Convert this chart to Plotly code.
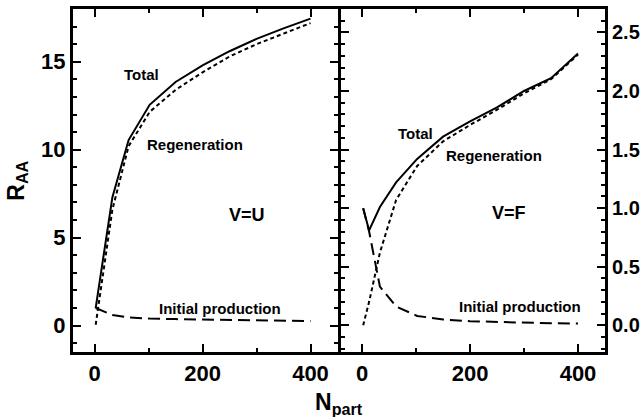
import plotly.graph_objects as go

# ---- data ----
npart_u = [2, 33, 63, 102, 150, 200, 250, 300, 350, 400]
u_total = [1.0, 7.3, 10.55, 12.55, 13.85, 14.8, 15.6, 16.3, 16.9, 17.45]
u_regen = [0.05, 6.6, 10.2, 12.15, 13.4, 14.4, 15.3, 16.0, 16.6, 17.2]
u_init = [1.0, 0.6, 0.46, 0.4, 0.37, 0.34, 0.32, 0.3, 0.28, 0.26]

npart_f = [2, 13, 33, 63, 102, 150, 200, 250, 300, 350, 400]
f_total = [1.0, 0.81, 1.01, 1.22, 1.42, 1.61, 1.74, 1.86, 2.0, 2.11, 2.32]
f_regen = [0.0, 0.2, 0.62, 1.07, 1.36, 1.57, 1.71, 1.84, 1.98, 2.10, 2.31]
f_init = [1.0, 0.8, 0.33, 0.16, 0.08, 0.05, 0.035, 0.027, 0.02, 0.017, 0.015]

# tick labels
x_ticks = [0, 200, 400]
x_ticklabels = ["0", "200", "400"]
yu_ticks = [0, 5, 10, 15]
yu_ticklabels = ["0", "5", "10", "15"]
yf_ticks = [0.0, 0.5, 1.0, 1.5, 2.0, 2.5]
yf_ticklabels = ["0.0", "0.5", "1.0", "1.5", "2.0", "2.5"]

FONT = "Liberation Sans"
BLACK = "#000000"
LW = 3
PLOT_W = 643 - 73 - 38
GAP = (LW / 2) / PLOT_W

fig = go.Figure()

def add(x, y, dash, xa, ya):
    fig.add_trace(go.Scatter(x=x, y=y, mode="lines", xaxis=xa, yaxis=ya,
                             line=dict(color=BLACK, width=2, dash=dash),
                             showlegend=False, hoverinfo="skip"))

add(npart_u, u_total, "solid", "x", "y")
add(npart_u, u_regen, "4px,3px", "x", "y")
add(npart_u, u_init, "12px,6px", "x", "y")
add(npart_f, f_total, "solid", "x2", "y2")
add(npart_f, f_regen, "4px,3px", "x2", "y2")
add(npart_f, f_init, "12px,6px", "x2", "y2")

axis_common = dict(showline=True, linecolor=BLACK, linewidth=LW, mirror="allticks",
                   ticks="inside", tickcolor=BLACK, tickwidth=1.5, showgrid=False,
                   zeroline=False, tickmode="array", automargin=False)

def bold(labels):
    return ["<b>%s</b>" % s for s in labels]

def minor(dt):
    return dict(dtick=dt, tick0=0, ticklen=4, ticks="inside", tickcolor=BLACK, tickwidth=1.5)

fig.update_layout(
    width=643, height=417,
    margin=dict(l=73, r=38, t=9, b=65),
    paper_bgcolor="white", plot_bgcolor="white",
    font=dict(family=FONT, color=BLACK),
    xaxis=dict(domain=[0, 0.5 - GAP], range=[-40, 450], anchor="y",
               tickvals=x_ticks, ticktext=bold(x_ticklabels),
               ticklen=8, minor=minor(100),
               tickfont=dict(size=22, family=FONT), **axis_common),
    yaxis=dict(domain=[0, 1], range=[-1.5, 18], anchor="x",
               tickvals=yu_ticks, ticktext=bold(yu_ticklabels),
               ticklen=8, minor=minor(1),
               tickfont=dict(size=22, family=FONT), **axis_common),
    xaxis2=dict(domain=[0.5 + GAP, 1], range=[-40, 450], anchor="y2",
                tickvals=x_ticks, ticktext=bold(x_ticklabels),
                ticklen=8, minor=minor(100),
                tickfont=dict(size=22, family=FONT), **axis_common),
    yaxis2=dict(domain=[0, 1], range=[-0.228, 2.7], anchor="x2", side="right",
                tickvals=yf_ticks, ticktext=bold(yf_ticklabels),
                ticklen=8, minor=minor(0.1),
                tickfont=dict(size=20, family=FONT), **axis_common),
)

def note(text, x, y, xref, yref, size=15):
    fig.add_annotation(text="<b>%s</b>" % text, x=x, y=y, xref=xref, yref=yref, showarrow=False,
                       font=dict(family=FONT, size=size, color=BLACK))

note("Total", 87, 14.3, "x", "y")
note("Regeneration", 186, 10.3, "x", "y")
note("V=U", 283, 6.3, "x", "y", 18)
note("Initial production", 233, 1.0, "x", "y")
note("Total", 99, 1.64, "x2", "y2")
note("Regeneration", 245, 1.45, "x2", "y2")
note("V=F", 272, 0.955, "x2", "y2", 18)
note("Initial production", 292, 0.16, "x2", "y2")

fig.add_annotation(text="<b>N<sub>part</sub></b>", x=0.5, y=-0.15, xref="paper", yref="paper",
                   showarrow=False, xanchor="center", yanchor="middle",
                   font=dict(family=FONT, size=23, color=BLACK))
fig.add_annotation(text="<b>R<sub>AA</sub></b>", x=-0.105, y=0.5, xref="paper", yref="paper",
                   showarrow=False, textangle=-90, xanchor="center", yanchor="middle",
                   font=dict(family=FONT, size=23, color=BLACK))

fig.write_html("out.html")
